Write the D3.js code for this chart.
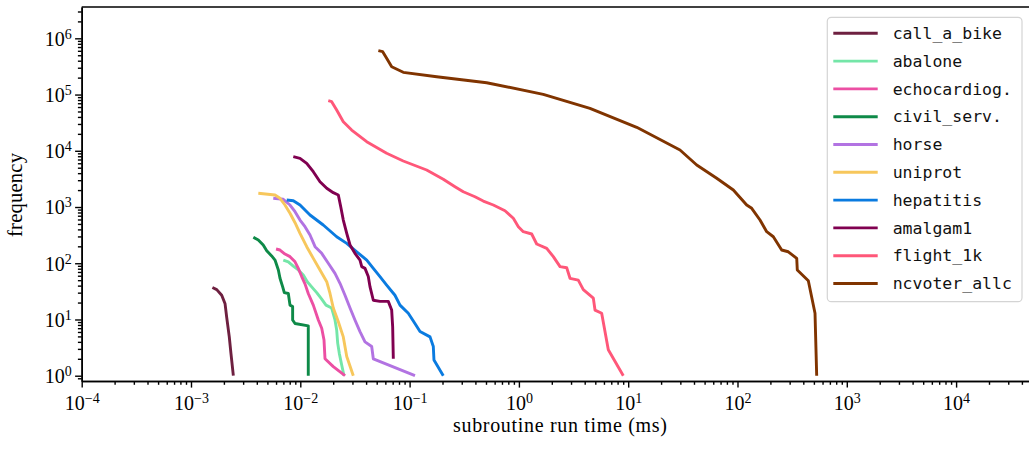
<!DOCTYPE html>
<html>
<head>
<meta charset="utf-8">
<script src="https://cdn.jsdelivr.net/npm/d3@7"></script>
<style>
  html, body { margin: 0; padding: 0; background: #fff; }
  svg { display: block; }
</style>
</head>
<body>
<svg id="chart" width="1029" height="452"></svg>
<script>
// ---------------- data ----------------
const seriesNames = ["call_a_bike", "abalone", "echocardiog.", "civil_serv.", "horse",
                     "uniprot", "hepatitis", "amalgam1", "flight_1k", "ncvoter_allc"];

const callABikeTime = [0.00157, 0.00172, 0.00191, 0.00205, 0.00212, 0.00224, 0.00232, 0.00244];
const callABikeFreq = [37, 34, 27, 19, 11, 4.9, 2.5, 1];

const abaloneTime = [0.00699, 0.00777, 0.00863, 0.00959, 0.01065, 0.01158, 0.01271, 0.01413, 0.01570,
                     0.01718, 0.01937, 0.02077, 0.02152, 0.02198, 0.02274, 0.02392, 0.02510];
const abaloneFreq = [114, 106, 89, 76, 62, 47, 38, 30, 23, 18, 16, 9.8, 6.5, 3.8, 2.5, 1.55, 1];

const echoTime = [0.00600, 0.00652, 0.00724, 0.00805, 0.00895, 0.00959, 0.01030, 0.01104, 0.01183,
                  0.01315, 0.01462, 0.01570, 0.01648, 0.01683, 0.02004, 0.02564];
const echoFreq = [179, 172, 146, 131, 106, 81, 58, 43, 29, 18, 9.8, 7.0, 4.3, 2.0, 1.45, 1];

const civilTime = [0.00372, 0.00413, 0.00458, 0.00493, 0.00547, 0.00587, 0.00630, 0.00652, 0.00690,
                   0.00714, 0.00777, 0.00805, 0.00851, 0.00851, 0.00895, 0.01183, 0.01183];
const civilFreq = [289, 259, 211, 167, 135, 114, 76, 54, 38, 30, 29, 18, 17, 9.8, 8.5, 7.7, 1];

const horseTime = [0.00566, 0.00699, 0.00805, 0.00895, 0.00994, 0.01104, 0.01227, 0.01365, 0.01570,
                   0.01803, 0.02077, 0.02307, 0.02564, 0.02851, 0.03162, 0.03516, 0.03908, 0.04500,
                   0.04656, 0.1120];
const horseFreq = [1429, 1371, 1086, 826, 587, 447, 318, 197, 150, 100, 66, 44, 27, 16, 9.8, 6.1, 4.0,
                   3.3, 2.0, 1];

const uniprotTime = [0.00413, 0.00587, 0.00652, 0.00724, 0.00805, 0.00895, 0.00994, 0.01145, 0.01315,
                     0.01514, 0.01745, 0.01870, 0.02004, 0.02228, 0.02474, 0.02660, 0.03055];
const uniprotFreq = [1754, 1636, 1429, 1086, 773, 526, 341, 197, 122, 76, 47, 29, 16, 9.1, 4.9, 2.2, 1];

const hepatitisTime = [0.00751, 0.00863, 0.00994, 0.01227, 0.01622, 0.02152, 0.02660, 0.03281, 0.04055,
                       0.04656, 0.05358, 0.06166, 0.07345, 0.08166, 0.09727, 0.1119, 0.1245, 0.1538,
                       0.1648, 0.1671, 0.2033];
const hepatitisFreq = [1333, 1295, 1086, 721, 479, 296, 226, 160, 114, 81, 58, 41, 27, 18, 12.9, 8.5,
                       6.1, 4.9, 3.3, 1.9, 1];

const amalgamTime = [0.00863, 0.00994, 0.01145, 0.01315, 0.01514, 0.01745, 0.02004, 0.02228, 0.02344,
                     0.02474, 0.02660, 0.02851, 0.03162, 0.03516, 0.03648, 0.03908, 0.04188, 0.04345,
                     0.04656, 0.05358, 0.06383, 0.06855, 0.07000, 0.07096];
const amalgamFreq = [7850, 7350, 5990, 4245, 2818, 2151, 1798, 1636, 1013, 587, 341, 211, 150, 114, 87,
                     81, 58, 38, 22, 21, 21, 14.7, 7.4, 2];

const flightTime = [0.01803, 0.01937, 0.02152, 0.02474, 0.02951, 0.04050, 0.06166, 0.08750, 0.1432,
                    0.2033, 0.2602, 0.3098, 0.3963, 0.4721, 0.5834, 0.7460, 0.8892, 0.9883, 1.097,
                    1.309, 1.455, 1.797, 2.065, 2.379, 2.738, 2.935, 3.493, 3.883, 4.797, 4.969,
                    5.719, 6.577, 9.02];
const flightFreq = [77800, 74700, 53100, 32900, 23400, 14500, 9020, 6580, 4550, 3110, 2297, 1871, 1524,
                    1278, 1086, 860, 630, 447, 364, 331, 220, 184, 131, 87, 83, 54, 50, 34, 24, 14.7,
                    12.9, 2.9, 1];

const ncvoterTime = [0.05178, 0.05675, 0.06166, 0.06855, 0.0875, 0.1770, 0.5070, 1.671, 4.467, 11.96,
                     29.78, 42.36, 64.55, 91.6, 121.4, 134.9, 160.7, 185.0, 212.8, 253.6, 291.7, 348.3,
                     352.4, 444.6, 511.9, 530.4];
const ncvoterFreq = [602600, 578000, 441500, 312900, 248600, 207700, 162400, 101000, 56900, 26180, 10330,
                     5585, 3241, 2009, 1086, 948, 587, 364, 296, 172, 160, 122, 76, 49, 12.9, 1];

const xMajorExponents = [-4, -3, -2, -1, 0, 1, 2, 3, 4];
const yMajorExponents = [0, 1, 2, 3, 4, 5, 6];
const xLabelText = "subroutine run time (ms)";
const yLabelText = "frequency";

// ---------------- styles ----------------
const seriesColors = ["#6e2040", "#74e6a8", "#ec4fa3", "#0e8a48", "#b273e2",
                      "#f7c75c", "#0a7be0", "#800050", "#ff5779", "#803400"];

const seriesTimes = [callABikeTime, abaloneTime, echoTime, civilTime, horseTime,
                     uniprotTime, hepatitisTime, amalgamTime, flightTime, ncvoterTime];
const seriesFreqs = [callABikeFreq, abaloneFreq, echoFreq, civilFreq, horseFreq,
                     uniprotFreq, hepatitisFreq, amalgamFreq, flightFreq, ncvoterFreq];

(function draw() {
  const series = seriesNames.map((name, i) => ({
    name, color: seriesColors[i],
    points: seriesTimes[i].map((t, j) => ({ t, f: seriesFreqs[i][j] }))
  }));

  const pL = 81.7, pR = 1029, pT = 7, pB = 381;
  const serif = "'Liberation Serif', 'Times New Roman', serif";
  const mono = "'DejaVu Sans Mono', monospace";
  const tickFont = 20, supFont = 14;

  const svg = d3.select("#chart");

  const x = d3.scaleLog().domain([1e-4, Math.pow(10, 4.667)]).range([pL, pR]);
  const y = d3.scaleLog().domain([Math.pow(10, -0.094), Math.pow(10, 6.557)]).range([pB, pT]);

  function minorTicks(scale, expLo, expHi) {
    const [d0, d1] = scale.domain();
    const out = [];
    for (let e = expLo; e <= expHi; e++) {
      for (let m = 2; m <= 9; m++) {
        const v = m * Math.pow(10, e);
        if (v >= d0 * 0.999 && v <= d1 * 1.001) out.push(v);
      }
    }
    return out;
  }

  // lines
  const line = d3.line().x(d => x(d.t)).y(d => y(d.f));
  svg.append("g").selectAll("path.series")
    .data(series)
    .enter().append("path")
    .attr("class", "series")
    .attr("d", d => line(d.points))
    .attr("fill", "none")
    .attr("stroke", d => d.color)
    .attr("stroke-width", 2.9)
    .attr("stroke-linejoin", "round")
    .attr("stroke-linecap", "butt");

  // x axis
  const xMinor = d3.axisBottom(x).tickValues(minorTicks(x, -4, 4)).tickSize(3.8).tickSizeOuter(0).tickFormat("");
  const xMajor = d3.axisBottom(x).tickValues(xMajorExponents.map(e => Math.pow(10, e))).tickSize(6.6).tickSizeOuter(0).tickFormat("");
  const gxm = svg.append("g").attr("transform", `translate(0,${pB})`).call(xMinor);
  const gx = svg.append("g").attr("transform", `translate(0,${pB})`).call(xMajor);

  // y axis
  const yMinor = d3.axisLeft(y).tickValues(minorTicks(y, -1, 6)).tickSize(3.8).tickSizeOuter(0).tickFormat("");
  const yMajor = d3.axisLeft(y).tickValues(yMajorExponents.map(e => Math.pow(10, e))).tickSize(6.6).tickSizeOuter(0).tickFormat("");
  const gym = svg.append("g").attr("transform", `translate(${pL},0)`).call(yMinor);
  const gy = svg.append("g").attr("transform", `translate(${pL},0)`).call(yMajor);

  [gxm, gx, gym, gy].forEach(g => {
    g.selectAll(".tick line").attr("stroke", "#000").attr("stroke-width", 1.4);
    g.select(".domain").attr("stroke", "#000").attr("stroke-width", 1.6);
  });

  // top spine
  svg.append("line").attr("x1", pL).attr("x2", pR).attr("y1", pT).attr("y2", pT)
    .attr("stroke", "#000").attr("stroke-width", 1.6);

  function powLabel(sel, exp) {
    sel.append("tspan").text("10");
    sel.append("tspan").attr("font-size", supFont).attr("dy", -7)
       .text(exp < 0 ? "\u2212" + (-exp) : String(exp));
  }

  gx.selectAll(".tick").each(function(d) {
    const e = Math.round(Math.log10(d));
    const t = d3.select(this).append("text")
      .attr("x", 0).attr("y", 28.8)
      .attr("text-anchor", "middle")
      .attr("fill", "#000")
      .attr("font-family", serif).attr("font-size", tickFont);
    powLabel(t, e);
  });

  gy.selectAll(".tick").each(function(d) {
    const e = Math.round(Math.log10(d));
    const t = d3.select(this).append("text")
      .attr("x", -10).attr("y", 6.8)
      .attr("text-anchor", "end")
      .attr("fill", "#000")
      .attr("font-family", serif).attr("font-size", tickFont);
    powLabel(t, e);
  });

  // axis labels
  svg.append("text").attr("x", 560).attr("y", 432)
    .attr("text-anchor", "middle").attr("font-family", serif).attr("font-size", 20)
    .attr("textLength", 214).attr("lengthAdjust", "spacing")
    .attr("fill", "#000").text(xLabelText);
  svg.append("text").attr("transform", "translate(22,195) rotate(-90)")
    .attr("text-anchor", "middle").attr("font-family", serif).attr("font-size", 20.5)
    .attr("textLength", 84).attr("lengthAdjust", "spacing")
    .attr("fill", "#000").text(yLabelText);

  // legend
  const lg = svg.append("g");
  lg.append("rect").attr("x", 827.3).attr("y", 17.3).attr("width", 194.7).attr("height", 284.4)
    .attr("rx", 4).attr("ry", 4)
    .attr("fill", "#fff").attr("fill-opacity", 0.85)
    .attr("stroke", "#d4d4d4").attr("stroke-width", 1.2);
  const rowY = i => 33.3 + i * 27.8;
  const rows = lg.selectAll("g.row").data(series).enter().append("g").attr("class", "row")
    .attr("transform", (d, i) => `translate(0,${rowY(i)})`);
  rows.append("line").attr("x1", 833.3).attr("x2", 877.7).attr("y1", 0).attr("y2", 0)
    .attr("stroke", d => d.color).attr("stroke-width", 2.9);
  rows.append("text").attr("x", 892.7).attr("y", 0).attr("dy", "0.35em")
    .attr("font-family", mono).attr("font-size", 16.5).attr("fill", "#111")
    .text(d => d.name);
})();
</script>
</body>
</html>
